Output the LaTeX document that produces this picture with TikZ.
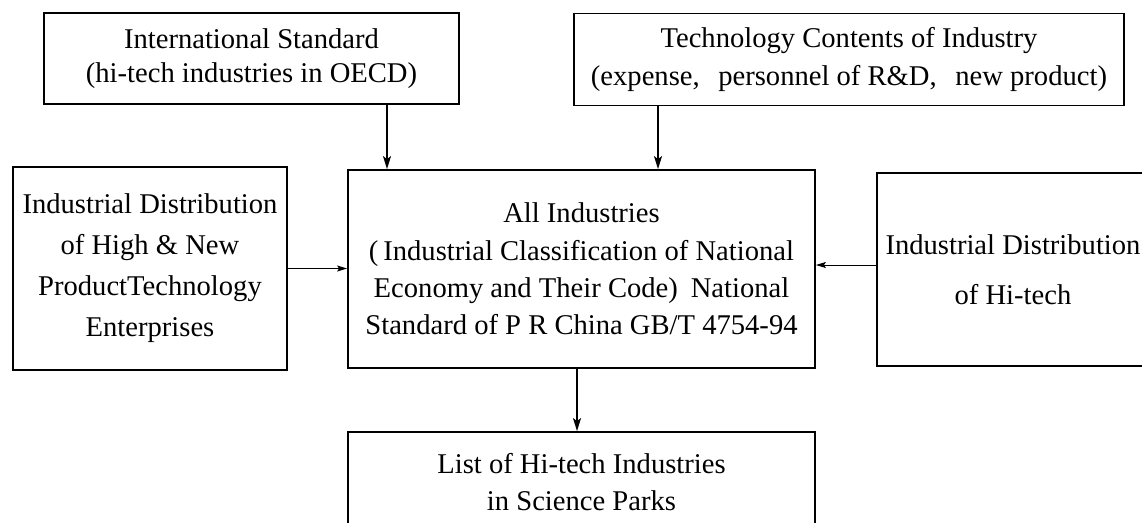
\documentclass[tikz,border=0pt]{standalone}
\usepackage{fontspec}
\setmainfont{Liberation Serif}
\usetikzlibrary{arrows.meta}

\begin{document}
\begin{tikzpicture}[x=1pt,y=-1pt,
  box/.style={draw, line width=1.8pt, inner sep=0pt, align=center},
  txt/.style={font=\fontsize{28.6}{#1}\selectfont},
  arr/.style={-{Stealth[length=13pt,width=8pt,inset=3pt]}, line width=1.3pt},
  harr/.style={-{Stealth[length=10pt,width=6pt,inset=2pt]}, line width=1pt}]

\useasboundingbox (0,0) rectangle (1142,522);

% source boxes on top
\node[box, txt=34.5, minimum width=415pt, minimum height=91pt] (tl) at (251.5,58.5)
  {International Standard\\(hi-tech industries in OECD)};
\node[box, txt=38, minimum width=550pt, minimum height=92pt] (tr) at (849,59.5)
  {Technology Contents of Industry\\(expense,\hspace{.65em}personnel of R\&D,\hspace{.65em}new product)};

% middle row
\node[box, txt=41, minimum width=274pt, minimum height=203pt] (lb) at (150,268.5)
  {Industrial Distribution\\of High \& New\\ProductTechnology\\Enterprises};
\node[box, txt=37.3, minimum width=467pt, minimum height=198pt] (cb) at (581.5,269)
  {All Industries\\(\hspace{.17em}Industrial Classification of National\\Economy and Their Code)\hspace{.45em}National\\Standard of P R China GB/T 4754-94};
\node[box, txt=50, minimum width=272pt, minimum height=193pt] (rb) at (1013,269.5)
  {Industrial Distribution\\of Hi-tech};

% result box
\node[box, txt=37, minimum width=467pt, minimum height=100pt] (bb) at (581.5,482)
  {List of Hi-tech Industries\\in Science Parks};

% connector positions
\coordinate (xa) at (387,0);
\coordinate (xb) at (658,0);
\coordinate (xc) at (577,0);
\coordinate (yr) at (0,265);

\draw[arr] (tl.south -| xa) -- (cb.north -| xa);
\draw[arr] (tr.south -| xb) -- (cb.north -| xb);
\draw[harr] (lb.east) -- (lb.east -| cb.west);
\draw[harr] (rb.west |- yr) -- (cb.east |- yr);
\draw[arr] (cb.south -| xc) -- (bb.north -| xc);
\end{tikzpicture}
\end{document}
